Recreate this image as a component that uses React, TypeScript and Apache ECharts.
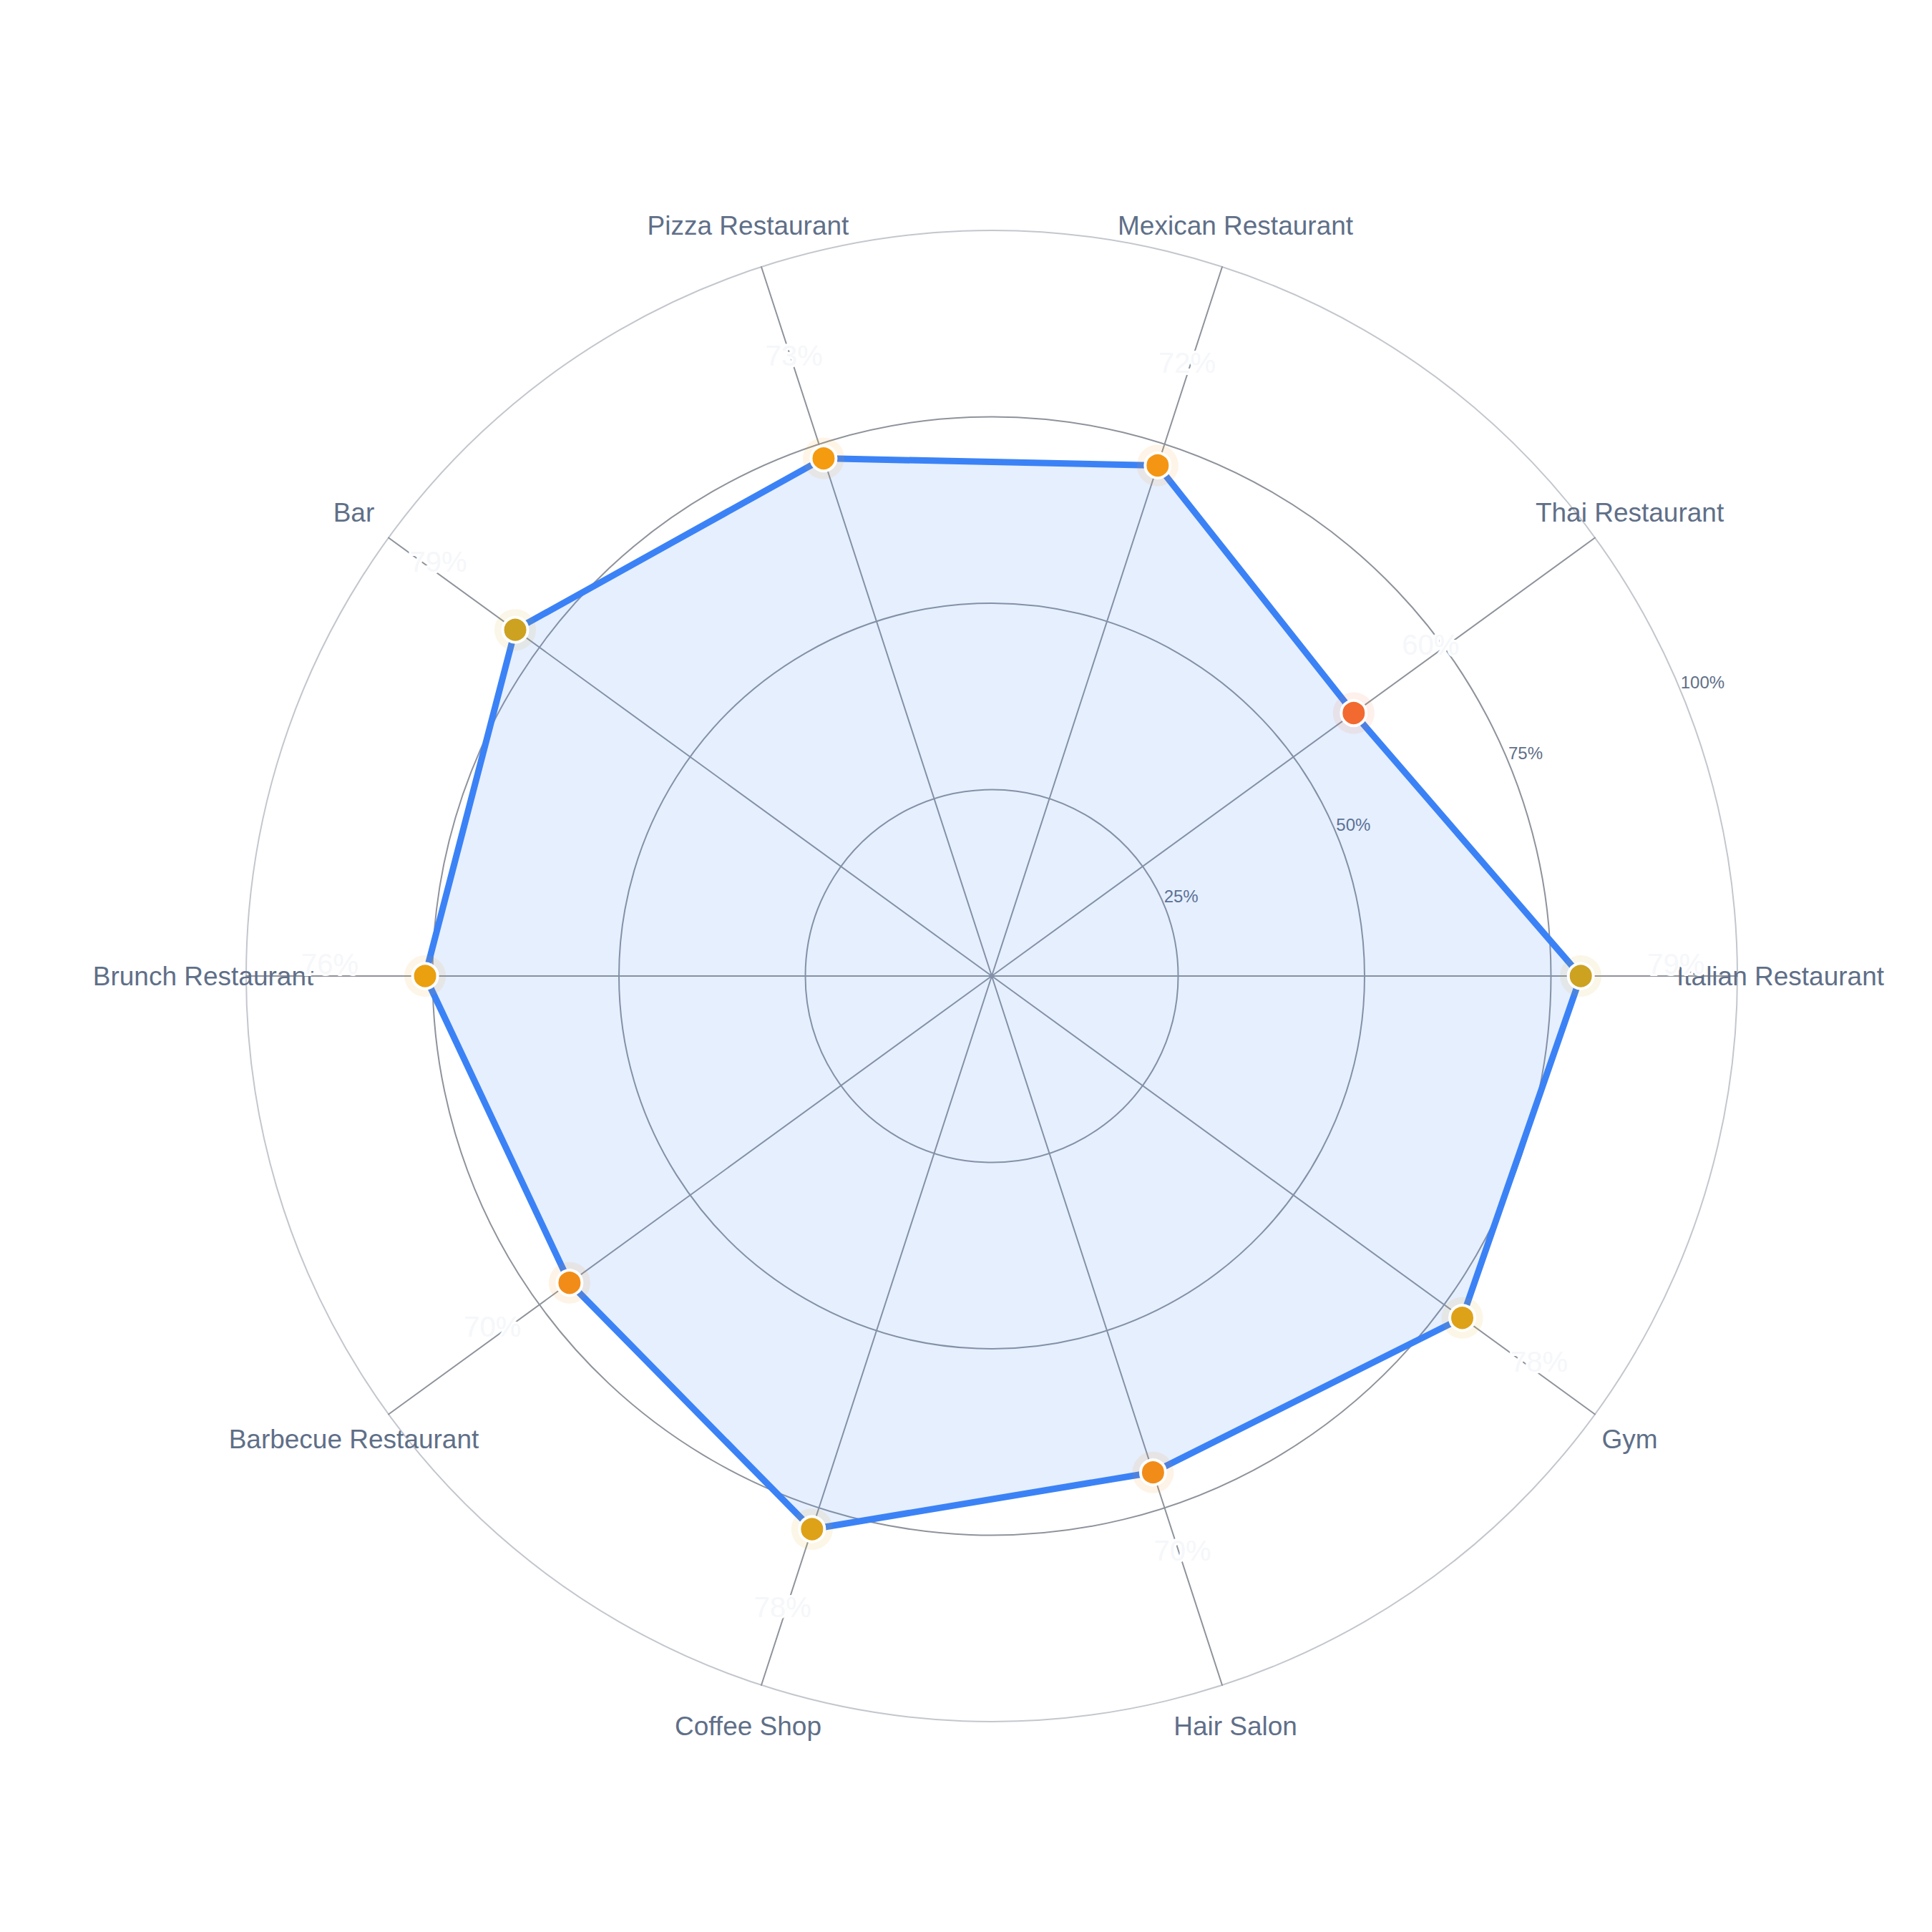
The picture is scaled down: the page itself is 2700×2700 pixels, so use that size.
import React, { useEffect, useRef } from "react";
import * as echarts from "echarts";

const categories = [
  "Italian Restaurant",
  "Thai Restaurant",
  "Mexican Restaurant",
  "Pizza Restaurant",
  "Bar",
  "Brunch Restaurant",
  "Barbecue Restaurant",
  "Coffee Shop",
  "Hair Salon",
  "Gym",
];
const values = [79, 60, 72, 73, 79, 76, 70, 78, 70, 78];
const radiusTicks = [0, 25, 50, 75, 100];

const FONT = 'Helvetica, Arial, "Liberation Sans", sans-serif';
const CENTER: [number, number] = [1386, 1364];
const RADIUS = 1042;

const colorStops: [number, string][] = [
  [60, "#f26a30"],
  [70, "#f28c18"],
  [73, "#f59b10"],
  [76, "#eba010"],
  [78, "#dea218"],
  [79, "#cca220"],
];

function hexToRgb(h: string) {
  const n = parseInt(h.slice(1), 16);
  return [(n >> 16) & 255, (n >> 8) & 255, n & 255];
}
function colorFor(v: number): string {
  if (v <= colorStops[0][0]) return colorStops[0][1];
  for (let i = 1; i < colorStops.length; i++) {
    const [v1, c1] = colorStops[i];
    const [v0, c0] = colorStops[i - 1];
    if (v <= v1) {
      const t = (v - v0) / (v1 - v0);
      const a = hexToRgb(c0);
      const b = hexToRgb(c1);
      const m = a.map((x, k) => Math.round(x + (b[k] - x) * t));
      return `rgb(${m[0]},${m[1]},${m[2]})`;
    }
  }
  return colorStops[colorStops.length - 1][1];
}
function withAlpha(c: string, a: number) {
  let rgb: number[];
  if (c.startsWith("#")) rgb = hexToRgb(c);
  else rgb = c.replace(/[^\d,]/g, "").split(",").map(Number);
  return `rgba(${rgb[0]},${rgb[1]},${rgb[2]},${a})`;
}

export default function App() {
  const ref = useRef<HTMLDivElement>(null);
  useEffect(() => {
    if (!ref.current) return;
    const chart = echarts.init(ref.current, null, { renderer: "svg" });
    const n = categories.length;
    const labelOffset = (i: number): [number, number] => {
      const a = (i * 2 * Math.PI) / n;
      return [133 * Math.cos(a), -133 * Math.sin(a) - 17];
    };
    const option: any = {
      animation: false,
      backgroundColor: "#ffffff",
      radar: {
        center: CENTER,
        radius: RADIUS,
        startAngle: 0,
        shape: "circle",
        splitNumber: radiusTicks.length - 1,
        indicator: categories.map((name) => ({
          name,
          min: radiusTicks[0],
          max: radiusTicks[radiusTicks.length - 1],
        })),
        nameGap: 60,
        axisName: {
          color: "#5f6f88",
          fontSize: 37,
          fontFamily: FONT,
          align: "center",
          verticalAlign: "middle",
        },
        axisLine: { lineStyle: { color: "#8e939b", width: 2 } },
        axisTick: { show: false },
        axisLabel: { show: false },
        splitLine: {
          lineStyle: {
            color: ["#8e939b", "#8e939b", "#8e939b", "#8e939b", "#c3c7cd"],
            width: 2,
          },
        },
        splitArea: { show: false },
      },
      polar: [
        { center: CENTER, radius: RADIUS },
        { center: CENTER, radius: RADIUS },
      ],
      angleAxis: [
        {
          polarIndex: 0,
          type: "category",
          data: categories,
          startAngle: 0,
          clockwise: false,
          boundaryGap: false,
          axisLine: { show: false },
          axisTick: { show: false },
          axisLabel: { show: false },
          splitLine: { show: false },
        },
        {
          polarIndex: 1,
          type: "value",
          min: 0,
          max: 360,
          startAngle: 22.5,
          clockwise: false,
          axisLine: { show: false },
          axisTick: { show: false },
          axisLabel: { show: false },
          splitLine: { show: false },
        },
      ],
      radiusAxis: [
        {
          polarIndex: 0,
          min: radiusTicks[0],
          max: radiusTicks[radiusTicks.length - 1],
          axisLine: { show: false },
          axisTick: { show: false },
          axisLabel: { show: false },
          splitLine: { show: false },
        },
        {
          polarIndex: 1,
          min: radiusTicks[0],
          max: radiusTicks[radiusTicks.length - 1],
          interval: radiusTicks[1] - radiusTicks[0],
          axisLine: { show: false },
          axisTick: { show: false },
          splitLine: { show: false },
          axisLabel: {
            show: true,
            margin: 0,
            showMinLabel: false,
            formatter: (v: number) => (v === 0 ? "" : `${v}%`),
            color: "#5f6f88",
            fontSize: 24,
            fontFamily: FONT,
            align: "left",
            verticalAlign: "bottom",
          },
        },
      ],
      series: [
        {
          type: "radar",
          symbol: "none",
          lineStyle: { color: "#3b82f6", width: 9 },
          areaStyle: { color: "rgba(59,130,246,0.13)", opacity: 1 },
          data: [{ value: values, name: "Share" }],
          z: 2,
        },
        {
          type: "scatter",
          coordinateSystem: "polar",
          polarIndex: 0,
          symbol: "circle",
          symbolSize: 58,
          silent: true,
          z: 3,
          data: values.map((v, i) => ({
            value: [v, categories[i]],
            itemStyle: { color: withAlpha(colorFor(v), 0.1), opacity: 1 },
          })),
        },
        {
          type: "scatter",
          coordinateSystem: "polar",
          polarIndex: 0,
          symbol: "circle",
          symbolSize: 35,
          z: 4,
          data: values.map((v, i) => ({
            value: [v, categories[i]],
            itemStyle: {
              color: colorFor(v),
              borderColor: "#ffffff",
              borderWidth: 4,
              opacity: 1,
            },
            label: {
              show: true,
              position: "inside",
              offset: labelOffset(i),
              formatter: `${v}%`,
              color: "#f5f7fa",
              fontSize: 40,
              fontFamily: FONT,
              textBorderColor: "#ffffff",
              textBorderWidth: 6,
            },
          })),
        },
      ],
    };
    chart.setOption(option);
    return () => chart.dispose();
  }, []);
  return (
    <div
      ref={ref}
      style={{ position: "fixed", left: 0, top: 0, width: 2700, height: 2700, background: "#fff" }}
    />
  );
}
